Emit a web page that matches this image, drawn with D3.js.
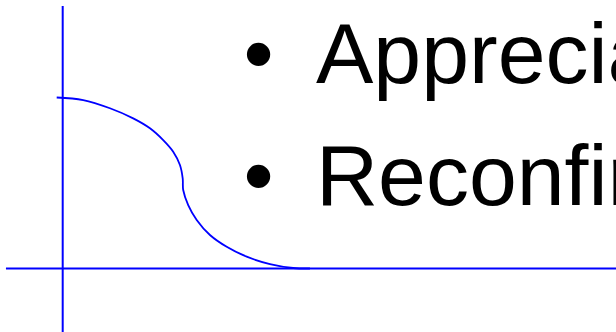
<!DOCTYPE html>
<html>
<head>
<meta charset="utf-8">
<script src="https://cdn.jsdelivr.net/npm/d3@7"></script>
<style>
  html, body { margin: 0; padding: 0; background: #ffffff; overflow: hidden; }
</style>
</head>
<body>
<div id="chart"></div>
<script>
// curve (x along horizontal axis, y up from it)
const curveX = [-0.24, 0.82, 1.89, 2.82, 3.49, 4.02, 4.42, 4.69, 4.80, 4.82, 5.02, 5.36, 5.89, 6.56, 7.36, 8.29, 9.22, 9.89];
const curveY = [10.0, 9.85, 9.37, 8.78, 8.20, 7.51, 6.83, 6.05, 5.27, 4.59, 3.71, 2.84, 1.96, 1.27, 0.69, 0.26, 0.03, 0.0];

// axis extents
const xAxisExtent = [-2.27, 22.2];
const yAxisExtent = [-3.8, 15.35];

// bullet lines
const bulletLines = ["Appreciation", "Reconfirmation"];

const width = 616, height = 332;
const blue = "#0000ff";

const x = d3.scaleLinear().domain([0, 10]).range([62.7, 312.7]);
const y = d3.scaleLinear().domain([0, 10]).range([268.5, 97.5]);

const $svg = d3.select("#chart")
    .append("svg")
    .attr("width", width)
    .attr("height", height);

//axes
$svg.append("line")
    .attr("x1", x(xAxisExtent[0]))
    .attr("x2", x(xAxisExtent[1]))
    .attr("y1", y(0))
    .attr("y2", y(0))
    .attr("stroke", blue)
    .attr("stroke-width", 2);

$svg.append("line")
    .attr("x1", x(0))
    .attr("x2", x(0))
    .attr("y1", y(yAxisExtent[1]))
    .attr("y2", y(yAxisExtent[0]))
    .attr("stroke", blue)
    .attr("stroke-width", 2);

//curve
const points = curveX.map((d, i) => [d, curveY[i]]);
const line = d3.line()
    .x(d => x(d[0]))
    .y(d => y(d[1]))
    .curve(d3.curveCatmullRom.alpha(0.5));

$svg.append("path")
    .datum(points)
    .attr("d", line)
    .attr("fill", "none")
    .attr("stroke", blue)
    .attr("stroke-width", 1.8);

//bullet text
const rows = $svg.selectAll("g.row")
    .data(bulletLines)
    .enter()
    .append("g")
    .attr("class", "row")
    .attr("transform", (d, i) => `translate(0,${83 + i * 122})`);

rows.append("text")
    .attr("x", 243.5)
    .attr("font-family", "Liberation Sans, Arial, sans-serif")
    .attr("font-size", 86)
    .attr("fill", "#000000")
    .text("\u2022");

rows.append("text")
    .attr("x", 316)
    .attr("font-family", "Liberation Sans, Arial, sans-serif")
    .attr("font-size", 86)
    .attr("fill", "#000000")
    .text(d => d);
</script>
</body>
</html>
